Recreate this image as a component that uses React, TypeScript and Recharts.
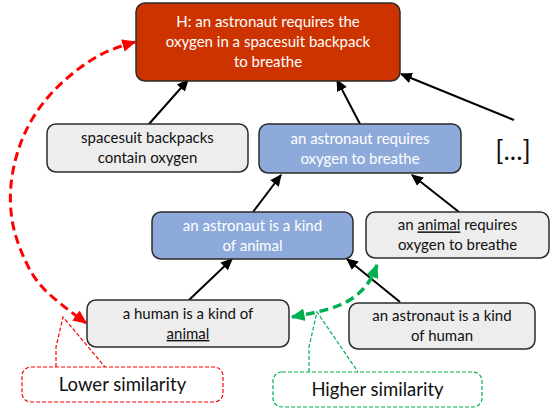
import React from "react";
import { ComposedChart, Line, Scatter, XAxis, YAxis } from "recharts";

// nodes of the entailment tree (centre of each box, in diagram units)
const nodeIds = ["hyp", "backpack", "requires", "kindAnimal", "animalReq", "human", "astroHuman", "more", "lower", "higher"];
const nodeText = [
  "H: an astronaut requires the|oxygen in a spacesuit backpack|to breathe",
  "spacesuit backpacks|contain oxygen",
  "an astronaut requires|oxygen to breathe",
  "an astronaut is a kind|of animal",
  "an _animal_ requires|oxygen to breathe",
  "a human is a kind of|_animal_",
  "an astronaut is a kind|of human",
  "[...]",
  "Lower similarity",
  "Higher similarity",
];
const nodeX = [268, 147.5, 360, 252.5, 457.5, 188, 442, 513, 122.5, 377.5];
const nodeY = [42, 148, 148.5, 235.5, 235, 323.5, 326, 150, 384.5, 389.5];

// child -> parent arrows
const edgeFrom = [[149, 124], [360, 124], [514, 120], [253, 212], [459, 212], [189, 300], [400, 302]];
const edgeTo = [[188, 80], [337, 80], [401, 74], [281, 175], [412, 175], [232, 259], [347, 259]];

// similarity arcs
const lowerArc = [[135, 42], [100, 55], [65, 80], [38, 110], [20, 145], [11, 185], [13, 225], [25, 260], [45, 290], [86, 323]];
const higherArc = [[292, 317], [317, 312], [340, 305], [358, 294], [370, 280], [377, 265]];

// callout tails
const lowerTail = [[56, 367], [56, 347], [63, 317], [105, 367]];
const higherTail = [[309, 372], [309, 347], [317, 312], [358, 372]];
const lowerGap = [[57, 367], [104, 367]];
const higherGap = [[310, 372], [357, 372]];

const FONT = "Lato, 'Open Sans', sans-serif";

type BoxStyle = { w: number; h: number; fill: string; stroke: string; sw: number; dash?: string; color: string; size: number; lh: number };
const grey: BoxStyle = { w: 0, h: 0, fill: "#ededed", stroke: "#2b2b2b", sw: 1.5, color: "#111", size: 15, lh: 20 };
const blue: BoxStyle = { ...grey, fill: "#8eaadb", color: "#ffffff" };
const BOX: Record<string, BoxStyle> = {
  hyp: { ...grey, w: 264, h: 78, fill: "#cc3300", color: "#ffffff" },
  backpack: { ...grey, w: 201, h: 48 },
  requires: { ...blue, w: 202, h: 49 },
  kindAnimal: { ...blue, w: 201, h: 47 },
  animalReq: { ...grey, w: 183, h: 46 },
  human: { ...grey, w: 202, h: 47 },
  astroHuman: { ...grey, w: 186, h: 46 },
  more: { ...grey, w: 0, h: 0, size: 27 },
  lower: { ...grey, w: 201, h: 35, fill: "#ffffff", stroke: "#ff0000", sw: 1.2, dash: "4 2", size: 18.5 },
  higher: { ...grey, w: 209, h: 35, fill: "#ffffff", stroke: "#00b050", sw: 1.2, dash: "4 2", size: 18.5 },
};

const nodes = nodeIds.map((id, i) => ({ id, text: nodeText[i], x: nodeX[i], y: nodeY[i] }));
const toPts = (arr: number[][]) => arr.map(([x, y]) => ({ x, y }));

const NodeShape = (props: any) => {
  const { cx, cy, payload } = props;
  const s = BOX[payload.id];
  const lines: string[] = payload.text.split("|");
  const y0 = cy - ((lines.length - 1) * s.lh) / 2;
  return (
    <g>
      {s.w > 0 && (
        <rect
          x={cx - s.w / 2}
          y={cy - s.h / 2}
          width={s.w}
          height={s.h}
          rx={9}
          fill={s.fill}
          stroke={s.stroke}
          strokeWidth={s.sw}
          strokeDasharray={s.dash}
        />
      )}
      <text textAnchor="middle" fontFamily={FONT} fontSize={s.size} fill={s.color}>
        {lines.map((ln, i) => (
          <tspan key={i} x={cx} y={y0 + i * s.lh} dy="0.36em">
            {ln.split("_").map((part, j) => (
              <tspan key={j} style={j % 2 ? { textDecoration: "underline" } : undefined}>
                {part}
              </tspan>
            ))}
          </tspan>
        ))}
      </text>
    </g>
  );
};

const Marker = ({ id, color, size }: { id: string; color: string; size: number }) => (
  <marker
    id={id}
    viewBox="0 0 10 10"
    refX={9}
    refY={5}
    markerWidth={size}
    markerHeight={size}
    markerUnits="userSpaceOnUse"
    orient="auto-start-reverse"
  >
    <path d="M0,0.5 L10,5 L0,9.5 z" fill={color} />
  </marker>
);

export default function App() {
  return (
    <div style={{ position: "absolute", left: 0, top: 0, width: 550, height: 410, background: "#fff" }}>
      <svg width={0} height={0} style={{ position: "absolute" }}>
        <defs>
          <Marker id="ah-black" color="#000" size={12} />
          <Marker id="ah-red" color="#ff0000" size={14} />
          <Marker id="ah-green" color="#00b050" size={14} />
        </defs>
      </svg>
      <ComposedChart width={550} height={410} margin={{ top: 0, right: 0, bottom: 0, left: 0 }}>
        <XAxis type="number" dataKey="x" domain={[0, 550]} allowDataOverflow hide />
        <YAxis type="number" dataKey="y" domain={[0, 410]} allowDataOverflow reversed hide />
        {edgeFrom.map((from, i) => (
          <Line
            key={"e" + i}
            data={toPts([from, edgeTo[i]])}
            dataKey="y"
            type="linear"
            stroke="#000"
            strokeWidth={2}
            dot={false}
            activeDot={false}
            markerEnd="url(#ah-black)"
            isAnimationActive={false}
          />
        ))}
        <Scatter data={nodes} shape={NodeShape} isAnimationActive={false} />
        <Line data={toPts(lowerGap)} dataKey="y" type="linear" stroke="#fff" strokeWidth={3} dot={false} activeDot={false} isAnimationActive={false} />
        <Line data={toPts(higherGap)} dataKey="y" type="linear" stroke="#fff" strokeWidth={3} dot={false} activeDot={false} isAnimationActive={false} />
        <Line data={toPts(lowerTail)} dataKey="y" type="linear" stroke="#ff0000" strokeWidth={1.2} strokeDasharray="4 2" dot={false} activeDot={false} isAnimationActive={false} />
        <Line data={toPts(higherTail)} dataKey="y" type="linear" stroke="#00b050" strokeWidth={1.2} strokeDasharray="4 2" dot={false} activeDot={false} isAnimationActive={false} />
        <Line
          data={toPts(lowerArc)}
          dataKey="y"
          type="natural"
          stroke="#ff0000"
          strokeWidth={3}
          strokeDasharray="9 5"
          dot={false}
          activeDot={false}
          markerStart="url(#ah-red)"
          markerEnd="url(#ah-red)"
          isAnimationActive={false}
        />
        <Line
          data={toPts(higherArc)}
          dataKey="y"
          type="natural"
          stroke="#00b050"
          strokeWidth={3.5}
          strokeDasharray="9 5"
          dot={false}
          activeDot={false}
          markerStart="url(#ah-green)"
          markerEnd="url(#ah-green)"
          isAnimationActive={false}
        />
      </ComposedChart>
    </div>
  );
}
